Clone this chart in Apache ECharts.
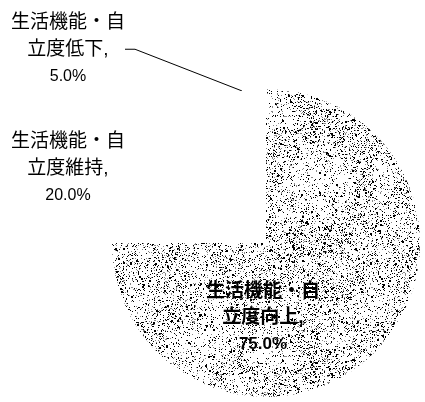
<!DOCTYPE html>
<html><head><meta charset="utf-8">
<script src="https://cdn.jsdelivr.net/npm/echarts@6/dist/echarts.min.js"></script>
<style>html,body{margin:0;padding:0;background:#fff}#c{width:425px;height:402px}</style>
</head><body><div id="c"></div>
<script>
var categories = ['生活機能・自\n立度向上', '生活機能・自\n立度維持', '生活機能・自\n立度低下'];
var values = [75.0, 20.0, 5.0];

// stipple texture (deterministic hash)
function makePattern() {
  var s = 240, cv = document.createElement('canvas');
  cv.width = s; cv.height = s;
  var ctx = cv.getContext('2d');
  ctx.fillStyle = '#fff'; ctx.fillRect(0, 0, s, s);
  function h(x, y, k) {
    var n = (x * 374761393 + y * 668265263 + k * 982451653) | 0;
    n = Math.imul(n ^ (n >>> 13), 1274126177);
    n = n ^ (n >>> 16);
    return ((n >>> 0) % 10000) / 10000;
  }
  function smooth(x, y) {
    var g = 24, gx = Math.floor(x / g), gy = Math.floor(y / g), fx = (x % g) / g, fy = (y % g) / g;
    var n = s / g;
    function c(a, b) { return h(((a % n) + n) % n, ((b % n) + n) % n, 3); }
    var a = c(gx, gy) * (1 - fx) + c(gx + 1, gy) * fx;
    var b = c(gx, gy + 1) * (1 - fx) + c(gx + 1, gy + 1) * fx;
    return a * (1 - fy) + b * fy;
  }
  for (var y = 0; y < s; y++) for (var x = 0; x < s; x++) {
    var d = 0.04 + 0.13 * smooth(x, y);
    var r = h(x, y, 1);
    if (r < d) { ctx.fillStyle = '#000'; ctx.fillRect(x, y, 1, 1); }
    else if (r < d * 1.6) { ctx.fillStyle = '#8a8a8a'; ctx.fillRect(x, y, 1, 1); }
    if (h(x, y, 7) < 0.005 * (0.5 + smooth(x, y))) { ctx.fillStyle = '#000'; ctx.fillRect(x, y, 2, 2); }
  }
  return cv;
}
var pat = makePattern();

var labelPos = [[263, 318], [68, 169], [68, 50]];
var chart = echarts.init(document.getElementById('c'), null, {renderer: 'canvas'});
var font = 'Liberation Sans, Noto Sans CJK JP';
var data = categories.map(function (c, i) {
  var d = {name: c, value: values[i]};
  d.itemStyle = {color: i === 0 ? {image: pat, repeat: 'repeat'} : '#ffffff'};
  d.label = {position: i === 2 ? 'outside' : 'inside'};
  if (i === 0) d.label.rich = {
    n: {fontSize: 19, lineHeight: 26, color: '#000', fontFamily: font, fontWeight: 'bold', align: 'center'},
    v: {fontSize: 17, lineHeight: 26, color: '#000', fontFamily: font, fontWeight: 'bold', align: 'center'}
  };
  d.labelLine = {show: i === 2, length: 20, length2: 10, lineStyle: {color: '#000', width: 1}};
  return d;
});
chart.setOption({
  animation: false,
  backgroundColor: '#fff',
  series: [{
    type: 'pie',
    center: [266, 243],
    radius: 154,
    startAngle: 90,
    clockwise: true,
    avoidLabelOverlap: false,
    data: data,
    itemStyle: {borderWidth: 0},
    label: {
      show: true,
      overflow: 'none',
      formatter: function (p) { return '{n|' + p.name + ',}\n{v|' + p.value.toFixed(1) + '%}'; },
      align: 'center',
      rich: {
        n: {fontSize: 19, lineHeight: 27, color: '#000', fontFamily: font, align: 'center'},
        v: {fontSize: 16, lineHeight: 27, color: '#000', fontFamily: font, align: 'center'}
      }
    },
    labelLayout: function (p) {
      var pos = labelPos[p.dataIndex];
      return {x: pos[0], y: pos[1], align: 'center', verticalAlign: 'middle'};
    }
  }]
});
</script></body></html>
